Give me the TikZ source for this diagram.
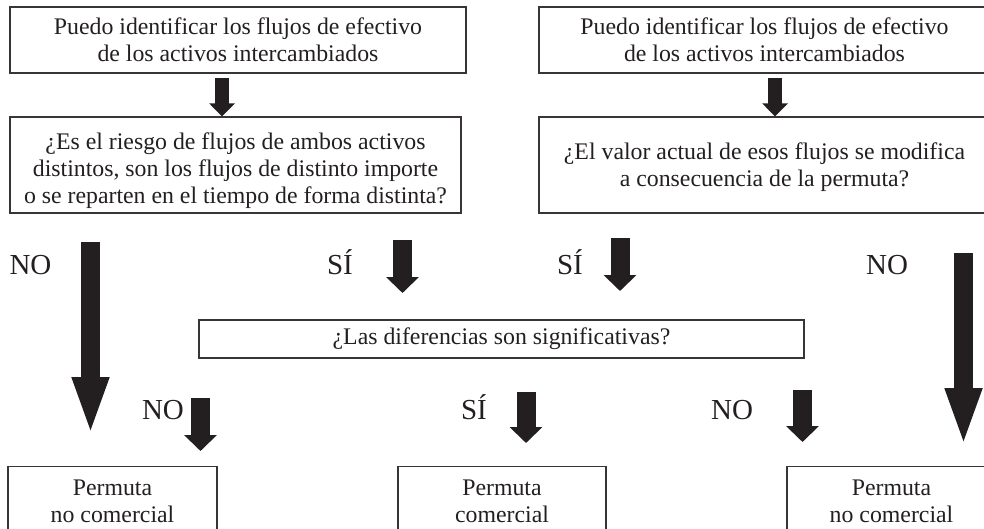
\documentclass[tikz,border=0pt]{standalone}
\usepackage{fontspec}
\setmainfont{Liberation Serif}
\usetikzlibrary{arrows.meta}
\definecolor{ink}{HTML}{231F20}
\begin{document}
\begin{tikzpicture}[x=1pt, y=-1pt,
    box/.style={rectangle, draw=ink!90, line width=1.3pt, text=ink, align=center, inner sep=0pt, font=\fontsize{23.8}{27}\selectfont},
    answer/.style={text=ink, inner sep=0pt, anchor=base, font=\fontsize{29}{30}\selectfont},
    link/.style={ink, line width=14.5pt, shorten <=4pt, -{Triangle[length=13pt 0 0, width=25pt 0 0]}},
    shortarrow/.style={ink, line width=19pt, -{Triangle[length=16pt 0 0, width=32pt 0 0]}},
    longarrow/.style={ink, line width=19pt, -{Triangle[length=59pt 0 0, width=33pt 0 0]}}]
    \clip (0,0) rectangle (984,529);
    %Nodes
    \node[box, minimum width=456pt, minimum height=66pt] (flowsA) at (238,40) {Puedo identificar los flujos de efectivo\\de los activos intercambiados};
    \node[box, minimum width=451pt, minimum height=96pt] (risk) at (235.5,165) {\rule{0pt}{28pt}¿Es el riesgo de flujos de ambos activos\\distintos, son los flujos de distinto importe\\o se reparten en el tiempo de forma distinta?};
    \node[box, minimum width=451pt, minimum height=66pt] (flowsB) at (764.5,40) {Puedo identificar los flujos de efectivo\\de los activos intercambiados};
    \node[box, minimum width=451pt, minimum height=96pt] (value) at (764.5,165) {\mbox{}\\[-5pt]¿El valor actual de esos flujos se modifica\\a consecuencia de la permuta?};
    \node[box, minimum width=605pt, minimum height=38pt] (diff) at (501.5,339) {¿Las diferencias son significativas?};
    \node[box, minimum width=209pt, minimum height=70pt, anchor=north] (nocomA) at (112.5,466) {Permuta\\no comercial};
    \node[box, minimum width=208pt, minimum height=70pt, anchor=north] (com) at (502,466) {Permuta\\comercial};
    \node[box, minimum width=209pt, minimum height=70pt, anchor=north] (nocomB) at (891.5,466) {Permuta\\no comercial};
    %Labels
    \node[answer] (noA) at (30.5,274) {NO};
    \node[answer] (siA) at (340,274) {SÍ};
    \node[answer] (siB) at (570,274) {SÍ};
    \node[answer] (noB) at (887,274) {NO};
    \node[answer] (noC) at (163,419) {NO};
    \node[answer] (siC) at (474,419) {SÍ};
    \node[answer] (noD) at (732,419) {NO};
    %Arrow ends
    \coordinate (noAtop) at (90.5,242);  \coordinate (noAtip) at (90.5,436);
    \coordinate (siAtop) at (402.5,240); \coordinate (siAtip) at (402.5,293);
    \coordinate (siBtop) at (620,238);   \coordinate (siBtip) at (620,291);
    \coordinate (noBtop) at (963.5,253); \coordinate (noBtip) at (963.5,447);
    \coordinate (noCtop) at (200.5,398); \coordinate (noCtip) at (200.5,451);
    \coordinate (siCtop) at (526,392);   \coordinate (siCtip) at (526,443);
    \coordinate (noDtop) at (802.5,390); \coordinate (noDtip) at (802.5,442);
    %Arrows
    \draw[link] ([xshift=-16pt]flowsA.south) -- ([xshift=-13.5pt]risk.north);
    \draw[link] ([xshift=10.5pt]flowsB.south) -- ([xshift=10.5pt]value.north);
    \draw[longarrow] (noAtop) -- (noAtip);
    \draw[longarrow] (noBtop) -- (noBtip);
    \draw[shortarrow] (siAtop) -- (siAtip);
    \draw[shortarrow] (siBtop) -- (siBtip);
    \draw[shortarrow] (noCtop) -- (noCtip);
    \draw[shortarrow] (siCtop) -- (siCtip);
    \draw[shortarrow] (noDtop) -- (noDtip);
\end{tikzpicture}
\end{document}
